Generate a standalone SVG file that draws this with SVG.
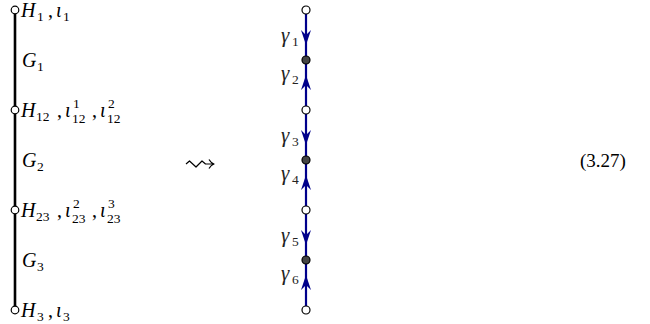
<svg xmlns="http://www.w3.org/2000/svg" width="650" height="324" viewBox="0 0 650 324">
<style>
.t{font-family:"Liberation Serif","DejaVu Serif",serif;font-size:20px;font-style:italic;fill:#000}
.p{font-family:"Liberation Serif","DejaVu Serif",serif;font-size:20px;fill:#000}
.s{font-family:"Liberation Serif","DejaVu Serif",serif;font-size:13.5px;fill:#000}
.g{font-family:"Liberation Serif","DejaVu Serif",serif;font-size:21px;font-style:italic;fill:#222}
.gs{font-family:"Liberation Serif","DejaVu Serif",serif;font-size:13.5px;fill:#222}
.o{fill:#fff;stroke:#000;stroke-width:1.2}
.d{fill:#444;stroke:#000;stroke-width:1.2}
.ln{stroke:#000;stroke-width:2.6}
.bl{stroke:#00008b;stroke-width:2.2;fill:none}
.ah{fill:#00008b}
</style>
<g id="connectors">
<line class="ln" x1="15" y1="10" x2="15" y2="310"/>
<line class="bl" x1="306" y1="10" x2="306" y2="310"/>
<path class="ah" d="M306,45 L301,30 L306,35 L311,30 Z"/>
<path class="ah" d="M306,75 L301,90 L306,85 L311,90 Z"/>
<path class="ah" d="M306,145 L301,130 L306,135 L311,130 Z"/>
<path class="ah" d="M306,175 L301,190 L306,185 L311,190 Z"/>
<path class="ah" d="M306,245 L301,230 L306,235 L311,230 Z"/>
<path class="ah" d="M306,275 L301,290 L306,285 L311,290 Z"/>
</g>
<g id="H1"><circle class="o" cx="15" cy="10" r="3.8"/>
<text class="t" x="21" y="17">H</text><text class="s" x="37" y="21">1</text><text class="p" x="48" y="17">,</text><text class="t" x="56" y="17">ι</text><text class="s" x="63" y="21">1</text></g>
<g id="G1"><text class="t" x="22" y="67">G</text><text class="s" x="37" y="71">1</text></g>
<g id="H12"><circle class="o" cx="15" cy="110" r="3.8"/>
<text class="t" x="21" y="117">H</text><text class="s" x="36" y="121">12</text><text class="p" x="57" y="117">,</text><text class="t" x="65" y="117">ι</text><text class="s" x="73" y="108">1</text><text class="s" x="72" y="123">12</text><text class="p" x="92" y="117">,</text><text class="t" x="100" y="117">ι</text><text class="s" x="108" y="108">2</text><text class="s" x="107" y="123">12</text></g>
<g id="G2"><text class="t" x="22" y="167">G</text><text class="s" x="37" y="171">2</text></g>
<g id="H23"><circle class="o" cx="15" cy="210" r="3.8"/>
<text class="t" x="21" y="217">H</text><text class="s" x="36" y="221">23</text><text class="p" x="57" y="217">,</text><text class="t" x="65" y="217">ι</text><text class="s" x="73" y="208">2</text><text class="s" x="72" y="223">23</text><text class="p" x="92" y="217">,</text><text class="t" x="100" y="217">ι</text><text class="s" x="108" y="208">3</text><text class="s" x="107" y="223">23</text></g>
<g id="G3"><text class="t" x="22" y="267">G</text><text class="s" x="37" y="271">3</text></g>
<g id="H3"><circle class="o" cx="15" cy="310" r="3.8"/>
<text class="t" x="21" y="317">H</text><text class="s" x="37" y="321">3</text><text class="p" x="48" y="317">,</text><text class="t" x="56" y="317">ι</text><text class="s" x="63" y="321">3</text></g>
<g id="squiggle"><path d="M186,164 L189.5,161 L196,167 L202,161 L205.5,164 L213,164 M209,159.5 Q211,163 214,164 Q211,165 209,168.5" fill="none" stroke="#000" stroke-width="1.2" stroke-linejoin="round"/></g>
<g id="eq"><text x="603" y="167" text-anchor="middle" style="font-family:'Liberation Serif',serif;font-size:19px">(3.27)</text></g>
<g id="v1"><circle class="o" cx="306" cy="10" r="4"/></g>
<g id="v2"><circle class="d" cx="306" cy="60" r="4"/></g>
<g id="v3"><circle class="o" cx="306" cy="110" r="4"/></g>
<g id="v4"><circle class="d" cx="306" cy="160" r="4"/></g>
<g id="v5"><circle class="o" cx="306" cy="210" r="4"/></g>
<g id="v6"><circle class="d" cx="306" cy="260" r="4"/></g>
<g id="v7"><circle class="o" cx="306" cy="310" r="4"/></g>
<g id="labels">
<text class="g" x="281" y="42">γ</text><text class="gs" x="292" y="46">1</text>
<text class="g" x="281" y="80">γ</text><text class="gs" x="292" y="84">2</text>
<text class="g" x="281" y="142">γ</text><text class="gs" x="292" y="146">3</text>
<text class="g" x="281" y="180">γ</text><text class="gs" x="292" y="184">4</text>
<text class="g" x="281" y="242">γ</text><text class="gs" x="292" y="246">5</text>
<text class="g" x="281" y="280">γ</text><text class="gs" x="292" y="284">6</text>
</g>
</svg>
